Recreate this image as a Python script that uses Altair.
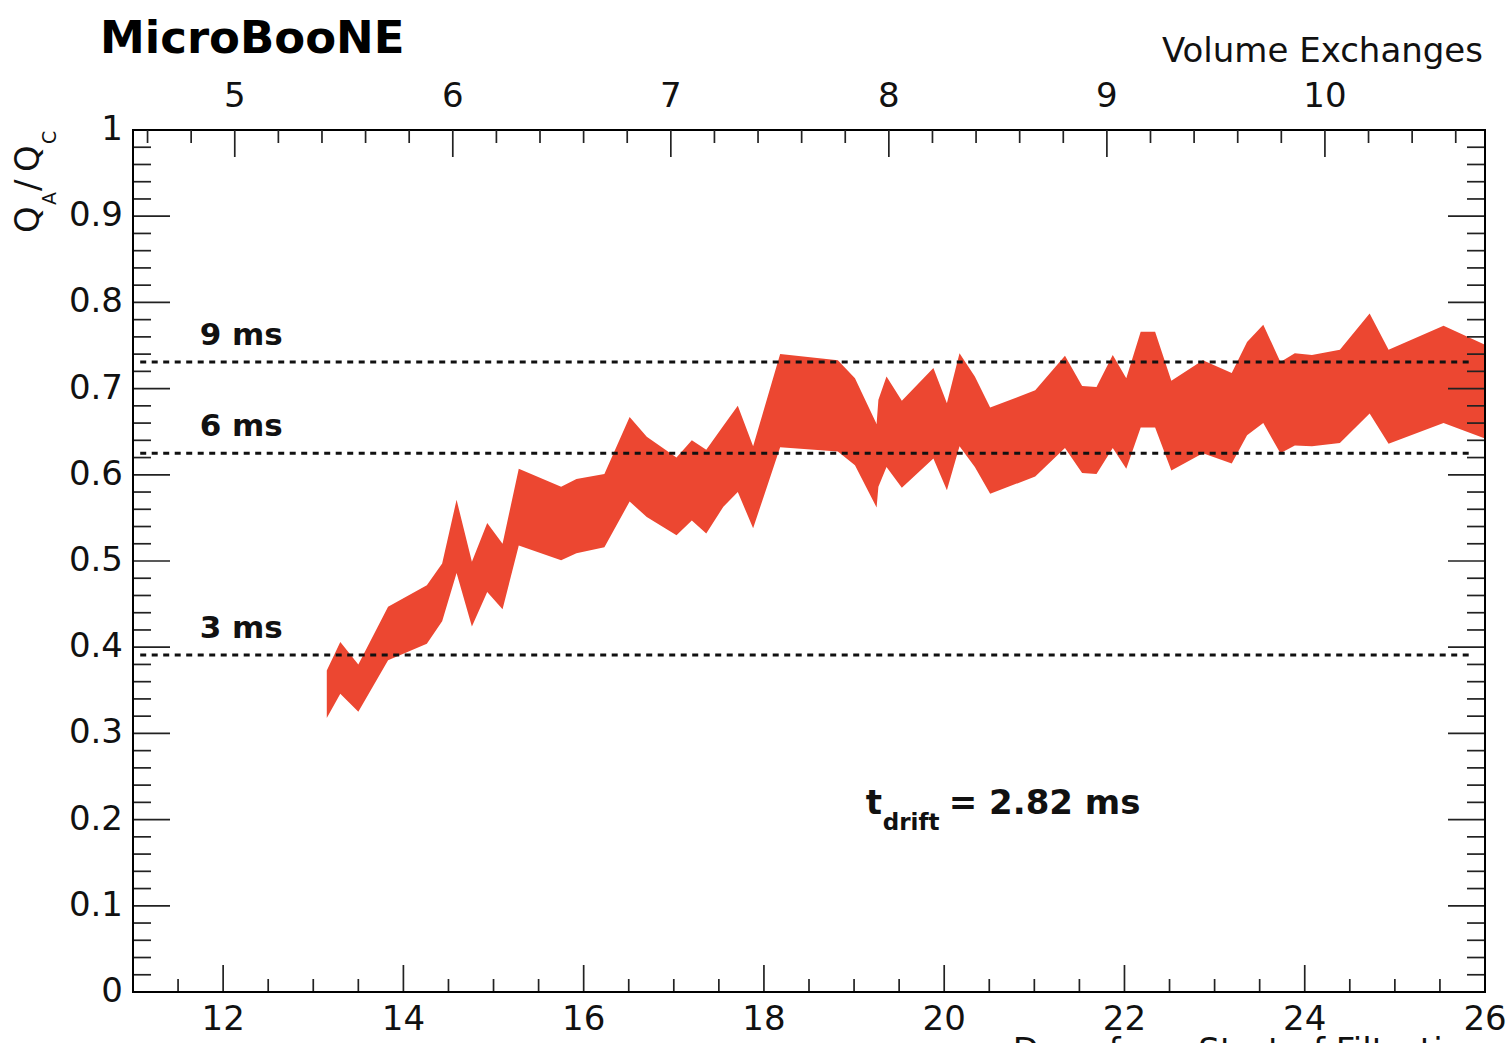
import altair as alt
import pandas as pd

# ---------------------------------------------------------------- data
# Measured band of Q_A/Q_C against days since the start of filtration
days = [13.15, 13.30, 13.50, 13.83, 14.26, 14.43, 14.59, 14.76, 14.93, 15.10,
        15.28, 15.75, 15.92, 16.23, 16.51, 16.70, 17.03, 17.20, 17.36, 17.55,
        17.71, 17.88, 18.18, 18.82, 19.01, 19.25, 19.27, 19.36, 19.53, 19.88,
        20.03, 20.17, 20.34, 20.51, 21.01, 21.34, 21.53, 21.69, 21.87, 22.02,
        22.18, 22.34, 22.52, 22.87, 23.19, 23.36, 23.54, 23.73, 23.89, 24.08,
        24.39, 24.72, 24.93, 25.54, 26.00]
ratio_high = [0.373, 0.406, 0.380, 0.447, 0.472, 0.497, 0.571, 0.499, 0.544, 0.520,
              0.607, 0.586, 0.595, 0.601, 0.667, 0.644, 0.620, 0.640, 0.629, 0.657,
              0.680, 0.633, 0.740, 0.733, 0.712, 0.659, 0.687, 0.714, 0.686, 0.724,
              0.683, 0.741, 0.714, 0.678, 0.698, 0.738, 0.703, 0.702, 0.739, 0.712,
              0.766, 0.766, 0.709, 0.733, 0.718, 0.754, 0.774, 0.731, 0.741, 0.739,
              0.745, 0.787, 0.745, 0.773, 0.751]
ratio_low = [0.318, 0.346, 0.325, 0.385, 0.404, 0.430, 0.486, 0.424, 0.464, 0.444,
             0.518, 0.501, 0.509, 0.516, 0.569, 0.551, 0.530, 0.547, 0.532, 0.563,
             0.580, 0.538, 0.632, 0.627, 0.611, 0.562, 0.586, 0.609, 0.585, 0.619,
             0.582, 0.633, 0.609, 0.578, 0.598, 0.631, 0.602, 0.601, 0.631, 0.607,
             0.655, 0.655, 0.605, 0.625, 0.613, 0.646, 0.660, 0.625, 0.634, 0.633,
             0.637, 0.671, 0.636, 0.660, 0.642]

# Reference electron lifetimes: Q_A/Q_C = exp(-t_drift / tau) with t_drift = 2.82 ms
lifetime_labels = ["3 ms", "6 ms", "9 ms"]
lifetime_ratio = [0.391, 0.625, 0.731]

# Axis ticks and their labels
day_ticks = [12, 14, 16, 18, 20, 22, 24, 26]
day_tick_labels = ["12", "14", "16", "18", "20", "22", "24", "26"]
ratio_ticks = [0.0, 0.1, 0.2, 0.3, 0.4, 0.5, 0.6, 0.7, 0.8, 0.9, 1.0]
ratio_tick_labels = ["0", "0.1", "0.2", "0.3", "0.4", "0.5", "0.6", "0.7", "0.8", "0.9", "1"]
exchange_ticks = [5, 6, 7, 8, 9, 10]
exchange_tick_labels = ["5", "6", "7", "8", "9", "10"]

day_minor = [11 + 0.5 * i for i in range(1, 30) if (11 + 0.5 * i) % 2 != 0]
ratio_minor = [round(0.02 * i, 2) for i in range(1, 50) if i % 5 != 0]
exchange_minor = [round(4.6 + 0.2 * i, 1) for i in range(31) if i % 5 != 2]

# ---------------------------------------------------------------- layout
W, H = 1352, 862
DAY_MIN, DAY_MAX = 11, 26
DAY_AT_FIVE = 12.129          # day at which five volume exchanges are reached
DAYS_PER_EXCHANGE = 2.419
ve_domain = [5 + (DAY_MIN - DAY_AT_FIVE) / DAYS_PER_EXCHANGE,
             5 + (DAY_MAX - DAY_AT_FIVE) / DAYS_PER_EXCHANGE]

FONT = "DejaVu Sans"
INK = "#111111"
BAND = "#EC4731"
TICK = "#222222"

x_scale = alt.Scale(domain=[DAY_MIN, DAY_MAX], nice=False, zero=False)
y_scale = alt.Scale(domain=[0, 1], nice=False, zero=False)
ve_scale = alt.Scale(domain=ve_domain, nice=False, zero=False)


def xd(field):
    return alt.X(field, type="quantitative", scale=x_scale, axis=None)


def yd(field):
    return alt.Y(field, type="quantitative", scale=y_scale, axis=None)


def xv(field):
    return alt.X(field, type="quantitative", scale=ve_scale, axis=None)


label_style = dict(font=FONT, fontSize=34, color=INK)

# ---------------------------------------------------------------- band
band_df = pd.DataFrame({"day": days, "high": ratio_high, "low": ratio_low})
band = alt.Chart(band_df).mark_area(color=BAND, opacity=1, interpolate="linear").encode(
    x=xd("day"), y=yd("high"), y2="low"
)

# ---------------------------------------------------------------- lifetime lines
life_df = pd.DataFrame({"label": lifetime_labels, "ratio": lifetime_ratio,
                        "x0": [11.08] * 3, "x1": [25.88] * 3, "lx": [11.74] * 3})
life_lines = alt.Chart(life_df).mark_rule(
    color="#111111", strokeWidth=3, strokeDash=[6, 5.5]
).encode(x=xd("x0"), x2="x1", y=yd("ratio"))
life_text = alt.Chart(life_df).mark_text(
    font=FONT, fontSize=31, fontWeight="bold", color=INK, align="left",
    baseline="alphabetic", dy=-17
).encode(x=xd("lx"), y=yd("ratio"), text="label:N")

# ---------------------------------------------------------------- t_drift note
note_df = pd.DataFrame({"day": [19.13], "ratio": [0.206]})
note_style = dict(font=FONT, fontWeight="bold", color=INK, align="left",
                  baseline="alphabetic")
note_t = alt.Chart(note_df).mark_text(fontSize=34, text="t", **note_style).encode(
    x=xd("day"), y=yd("ratio"))
note_sub = alt.Chart(note_df).mark_text(fontSize=23, text="drift", dx=17, dy=16,
                                        **note_style).encode(x=xd("day"), y=yd("ratio"))
note_rest = alt.Chart(note_df).mark_text(fontSize=34, text="= 2.82 ms", dx=83,
                                         **note_style).encode(x=xd("day"), y=yd("ratio"))

# ---------------------------------------------------------------- y-axis title Q_A/Q_C
ytitle_main = pd.DataFrame({"t": ["Q", "/", "Q"], "py": [103, 61, 42]})
ytitle_sub = pd.DataFrame({"t": ["A", "C"], "py": [75, 14]})
ytitle_a = alt.Chart(ytitle_main).mark_text(
    font=FONT, fontSize=34, color=INK, angle=270, align="left", baseline="alphabetic"
).encode(x=alt.value(-94), y=alt.Y("py:Q", scale=None), text="t:N")
ytitle_b = alt.Chart(ytitle_sub).mark_text(
    font=FONT, fontSize=19, color=INK, angle=270, align="left", baseline="alphabetic"
).encode(x=alt.value(-77), y=alt.Y("py:Q", scale=None), text="t:N")

# ---------------------------------------------------------------- tick labels and titles
bottom_labels = alt.Chart(pd.DataFrame({"day": day_ticks, "t": day_tick_labels})).mark_text(
    align="center", baseline="alphabetic", dy=38, **label_style
).encode(x=xd("day"), y=alt.value(H), text="t:N")
left_labels = alt.Chart(pd.DataFrame({"ratio": ratio_ticks, "t": ratio_tick_labels})).mark_text(
    align="right", baseline="middle", dx=-10, **label_style
).encode(y=yd("ratio"), x=alt.value(0), text="t:N")
bottom_title = alt.Chart(pd.DataFrame({"t": ["Days from Start of Filtration"]})).mark_text(
    align="right", baseline="alphabetic", **label_style
).encode(x=alt.value(W), y=alt.value(H + 70), text="t:N")
top_title = alt.Chart(pd.DataFrame({"t": ["Volume Exchanges"]})).mark_text(
    align="right", baseline="alphabetic", **label_style
).encode(x=alt.value(W - 2), y=alt.value(-68), text="t:N")
experiment = alt.Chart(pd.DataFrame({"t": ["MicroBooNE"]})).mark_text(
    align="left", baseline="alphabetic", font=FONT, fontSize=45, fontWeight="bold",
    color="#000000"
).encode(x=alt.value(-33), y=alt.value(-77), text="t:N")

# ---------------------------------------------------------------- inward ticks
bmaj = pd.DataFrame({"day": day_ticks})
bmin = pd.DataFrame({"day": day_minor})
ymaj = pd.DataFrame({"ratio": ratio_ticks})
ymin = pd.DataFrame({"ratio": ratio_minor})
tick_style = dict(color=TICK, strokeWidth=1.7)

ticks = [
    alt.Chart(bmaj).mark_rule(**tick_style).encode(x=xd("day"), y=alt.value(H), y2=alt.value(H - 27)),
    alt.Chart(bmin).mark_rule(**tick_style).encode(x=xd("day"), y=alt.value(H), y2=alt.value(H - 13)),
    alt.Chart(ymaj).mark_rule(**tick_style).encode(y=yd("ratio"), x=alt.value(0), x2=alt.value(37)),
    alt.Chart(ymin).mark_rule(**tick_style).encode(y=yd("ratio"), x=alt.value(0), x2=alt.value(18)),
    alt.Chart(ymaj).mark_rule(**tick_style).encode(y=yd("ratio"), x=alt.value(W), x2=alt.value(W - 37)),
    alt.Chart(ymin).mark_rule(**tick_style).encode(y=yd("ratio"), x=alt.value(W), x2=alt.value(W - 18)),
]

# ---------------------------------------------------------------- frame
frame = alt.Chart(pd.DataFrame({"x0": [DAY_MIN], "x1": [DAY_MAX], "y0": [0], "y1": [1]})).mark_rect(
    filled=False, color="#000000", strokeWidth=2
).encode(x=xd("x0"), x2="x1", y=yd("y0"), y2="y1")

days_layer = alt.layer(band, life_lines, life_text, note_t, note_sub, note_rest,
                       ytitle_a, ytitle_b, bottom_labels, left_labels, bottom_title,
                       top_title, experiment, *ticks, frame)

# ---------------------------------------------------------------- top axis: volume exchanges
tmaj = pd.DataFrame({"ve": exchange_ticks, "t": exchange_tick_labels})
tmin = pd.DataFrame({"ve": exchange_minor})
top_major = alt.Chart(tmaj).mark_rule(**tick_style).encode(
    x=xv("ve"), y=alt.value(0), y2=alt.value(27))
top_minor = alt.Chart(tmin).mark_rule(**tick_style).encode(
    x=xv("ve"), y=alt.value(0), y2=alt.value(13))
top_labels = alt.Chart(tmaj).mark_text(
    align="center", baseline="alphabetic", dy=-23, **label_style
).encode(x=xv("ve"), y=alt.value(0), text="t:N")
ve_layer = alt.layer(top_major, top_minor, top_labels)

chart = alt.layer(days_layer, ve_layer).resolve_scale(x="independent").properties(
    width=W, height=H,
    autosize=alt.AutoSizeParams(type="none"),
    padding={"left": 133, "top": 130, "right": 24, "bottom": 51},
    background="white",
).configure_view(strokeWidth=0)

chart.save("out.html", embed_options={"renderer": "svg", "actions": False})
